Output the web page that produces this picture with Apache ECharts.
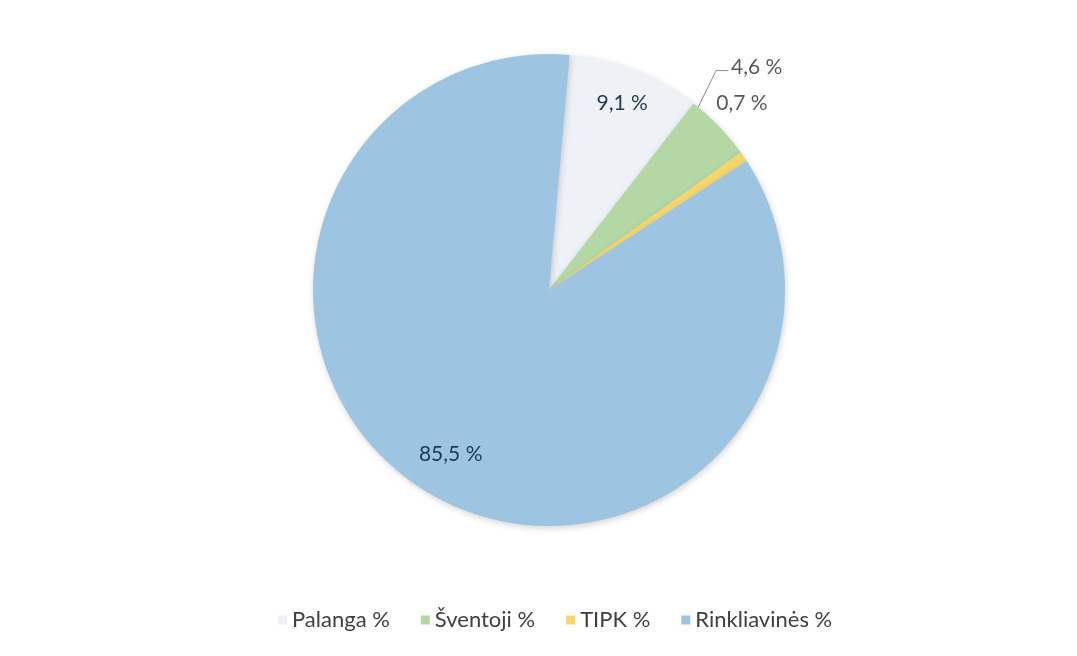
<!DOCTYPE html>
<html>
<head>
<meta charset="utf-8">
<script src="https://cdn.jsdelivr.net/npm/echarts@6/dist/echarts.min.js"></script>
<style>
html,body{margin:0;padding:0;background:#fff;}
#c{width:1077px;height:656px;}
</style>
</head>
<body>
<div id="c"></div>
<script>
const categories = ['Palanga %', 'Šventoji %', 'TIPK %', 'Rinkliavinės %'];
const values = [9.1, 4.6, 0.7, 85.5];
const colors = ['#eef2f7', '#b4d8a5', '#f5d66c', '#9dc5e2'];

const CX = 549, CY = 290, R = 236, START = 85;
const total = values.reduce((a, b) => a + b, 0);
function fmt(v) { return v.toFixed(1).replace('.', ',') + ' %'; }
function midAngle(i) {
  const cum = values.slice(0, i).reduce((a, b) => a + b, 0);
  return ((90 - START) + (cum + values[i] / 2) / total * 360) * Math.PI / 180;
}
// label nudges (outside labels) to sit like the reference
const labelShift = [null, { dx: -15, dy: -49 }, { dx: -50, dy: -46 }, null];

const chart = echarts.init(document.getElementById('c'));
chart.setOption({
  backgroundColor: '#ffffff',
  animation: false,
  legend: {
    bottom: 20,
    left: 273,
    itemWidth: 9,
    itemHeight: 9,
    itemGap: 31,
    icon: 'rect',
    textStyle: { fontFamily: 'Lato', fontSize: 22, color: '#404040' },
    data: categories
  },
  series: [{
    type: 'pie',
    center: [CX, CY],
    radius: R,
    startAngle: START,
    clockwise: true,
    avoidLabelOverlap: false,
    itemStyle: { shadowBlur: 6, shadowColor: 'rgba(0,0,0,0.18)', shadowOffsetX: 1, shadowOffsetY: 2 },
    label: {
      fontFamily: 'Lato',
      fontSize: 21,
      formatter: p => fmt(p.value)
    },
    labelLayout: function (p) {
      const i = p.dataIndex;
      if (i === 0 || i === 3) {
        const a = midAngle(i);
        const f = i === 0 ? 0.85 : 0.81;
        return { x: CX + R * f * Math.sin(a), y: CY - R * f * Math.cos(a), align: 'center', verticalAlign: 'middle' };
      }
      const s = labelShift[i];
      const lx = p.labelRect.x + s.dx;
      const ly = p.labelRect.y + p.labelRect.height / 2 + s.dy;
      const out = { x: lx, y: ly, align: 'left', verticalAlign: 'middle' };
      if (i === 1) {
        const a = midAngle(i) - 0.12;
        out.labelLinePoints = [
          [CX + R * Math.sin(a), CY - R * Math.cos(a)],
          [lx - 15, ly + 3],
          [lx - 3, ly + 3]
        ];
      }
      return out;
    },
    data: categories.map((n, i) => {
      const inside = (i === 0 || i === 3);
      return {
        name: n,
        value: values[i],
        itemStyle: { color: colors[i] },
        label: inside
          ? { position: 'inside', color: '#1f3a56' }
          : { position: 'outside', color: '#595959' },
        labelLine: i === 1
          ? { show: true, length: 14, length2: 12, lineStyle: { color: '#8c8c8c', width: 1 } }
          : { show: false, length: 14, length2: 6 }
      };
    })
  }]
});
</script>
</body>
</html>
